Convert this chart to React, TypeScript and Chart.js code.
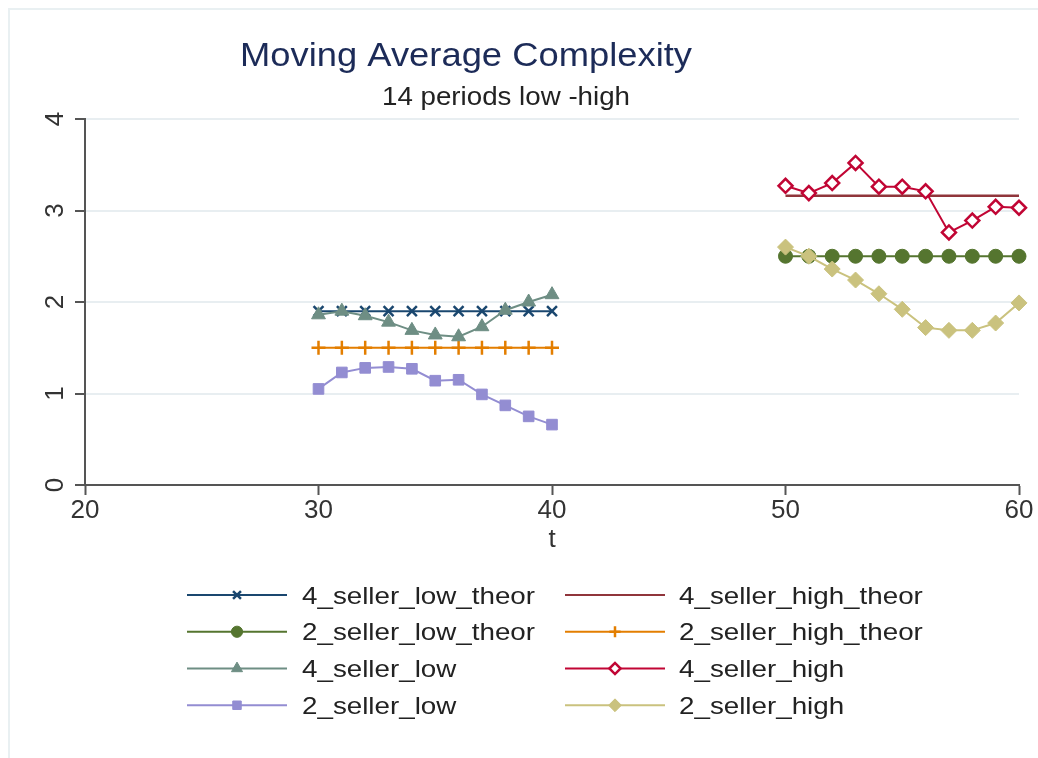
import React, { useEffect, useRef } from 'react';
import { Chart, registerables } from 'chart.js';

Chart.register(...registerables);

// ---------- data ----------
const periodsLow = [30, 31, 32, 33, 34, 35, 36, 37, 38, 39, 40];
const periodsHigh = [50, 51, 52, 53, 54, 55, 56, 57, 58, 59, 60];

const seller4LowTheor = [1.9, 1.9, 1.9, 1.9, 1.9, 1.9, 1.9, 1.9, 1.9, 1.9, 1.9];
const seller4HighTheor = [3.16, 3.16, 3.16, 3.16, 3.16, 3.16, 3.16, 3.16, 3.16, 3.16, 3.16];
const seller2LowTheor = [2.5, 2.5, 2.5, 2.5, 2.5, 2.5, 2.5, 2.5, 2.5, 2.5, 2.5];
const seller2HighTheor = [1.5, 1.5, 1.5, 1.5, 1.5, 1.5, 1.5, 1.5, 1.5, 1.5, 1.5];
const seller4Low = [1.86, 1.9, 1.85, 1.78, 1.69, 1.64, 1.62, 1.73, 1.91, 2.0, 2.08];
const seller4High = [3.27, 3.19, 3.3, 3.52, 3.26, 3.26, 3.21, 2.76, 2.89, 3.04, 3.03];
const seller2Low = [1.05, 1.23, 1.28, 1.29, 1.27, 1.14, 1.15, 0.99, 0.87, 0.75, 0.66];
const seller2High = [2.6, 2.5, 2.36, 2.24, 2.09, 1.92, 1.72, 1.69, 1.69, 1.77, 1.99];

const seriesNames = [
  '4_seller_low_theor',
  '4_seller_high_theor',
  '2_seller_low_theor',
  '2_seller_high_theor',
  '4_seller_low',
  '4_seller_high',
  '2_seller_low',
  '2_seller_high',
];

const xTickValues = [20, 30, 40, 50, 60];
const yTickValues = [0, 1, 2, 3, 4];
const titleText = 'Moving Average Complexity';
const subtitleText = '14 periods low -high';
const xAxisTitle = 't';

// ---------- styles ----------
const FONT = '"Liberation Sans", Arial, Helvetica, sans-serif';

type Style = {
  color: string;
  point: string | false;
  radius: number;
  fill: string;
  pw: number;
};

const styles: Style[] = [
  { color: '#1a476f', point: 'crossRot', radius: 7, fill: '#1a476f', pw: 2.5 },
  { color: '#90353b', point: false, radius: 0, fill: '#90353b', pw: 0 },
  { color: '#55752f', point: 'circle', radius: 7, fill: '#55752f', pw: 1 },
  { color: '#e37e00', point: 'cross', radius: 7, fill: '#e37e00', pw: 2.5 },
  { color: '#6e8e84', point: 'triangle', radius: 8, fill: '#6e8e84', pw: 1 },
  { color: '#c10534', point: 'rectRot', radius: 7, fill: '#ffffff', pw: 2.5 },
  { color: '#938dd2', point: 'rect', radius: 7.5, fill: '#938dd2', pw: 1 },
  { color: '#cac27e', point: 'rectRot', radius: 8, fill: '#cac27e', pw: 1 },
];

const seriesValues = [
  seller4LowTheor,
  seller4HighTheor,
  seller2LowTheor,
  seller2HighTheor,
  seller4Low,
  seller4High,
  seller2Low,
  seller2High,
];
const seriesX = [periodsLow, periodsHigh, periodsHigh, periodsLow, periodsLow, periodsHigh, periodsLow, periodsHigh];

function drawMarker(
  ctx: CanvasRenderingContext2D,
  style: string,
  x: number,
  y: number,
  r: number,
  fill: string,
  stroke: string,
  lw: number
) {
  ctx.save();
  ctx.beginPath();
  ctx.lineWidth = lw;
  ctx.strokeStyle = stroke;
  ctx.fillStyle = fill;
  const c45 = Math.SQRT1_2;
  switch (style) {
    case 'circle':
      ctx.arc(x, y, r, 0, Math.PI * 2);
      ctx.fill();
      if (lw) ctx.stroke();
      break;
    case 'triangle': {
      let a = 0;
      ctx.moveTo(x + Math.sin(a) * r, y - Math.cos(a) * r);
      a += (2 * Math.PI) / 3;
      ctx.lineTo(x + Math.sin(a) * r, y - Math.cos(a) * r);
      a += (2 * Math.PI) / 3;
      ctx.lineTo(x + Math.sin(a) * r, y - Math.cos(a) * r);
      ctx.closePath();
      ctx.fill();
      if (lw) ctx.stroke();
      break;
    }
    case 'rect': {
      const h = r * c45;
      ctx.rect(x - h, y - h, 2 * h, 2 * h);
      ctx.fill();
      if (lw) ctx.stroke();
      break;
    }
    case 'rectRot':
      ctx.moveTo(x - r, y);
      ctx.lineTo(x, y - r);
      ctx.lineTo(x + r, y);
      ctx.lineTo(x, y + r);
      ctx.closePath();
      ctx.fill();
      if (lw) ctx.stroke();
      break;
    case 'cross':
      ctx.moveTo(x, y - r);
      ctx.lineTo(x, y + r);
      ctx.moveTo(x - r, y);
      ctx.lineTo(x + r, y);
      ctx.stroke();
      break;
    case 'crossRot': {
      const d = r * c45;
      ctx.moveTo(x - d, y - d);
      ctx.lineTo(x + d, y + d);
      ctx.moveTo(x + d, y - d);
      ctx.lineTo(x - d, y + d);
      ctx.stroke();
      break;
    }
  }
  ctx.restore();
}

function fillStretched(
  ctx: CanvasRenderingContext2D,
  text: string,
  x: number,
  y: number,
  font: string,
  color: string,
  stretch: number
) {
  ctx.save();
  ctx.font = font;
  ctx.fillStyle = color;
  ctx.textAlign = 'left';
  ctx.textBaseline = 'alphabetic';
  ctx.translate(x, y);
  ctx.scale(stretch, 1);
  ctx.fillText(text, 0, 0);
  ctx.restore();
}

function widthStretch(ctx: CanvasRenderingContext2D, text: string, font: string, target: number) {
  ctx.save();
  ctx.font = font;
  const w = ctx.measureText(text).width;
  ctx.restore();
  return target / w;
}

const decorPlugin = {
  id: 'stataDecor',
  afterDraw(chart: any) {
    const ctx: CanvasRenderingContext2D = chart.ctx;
    const yScale = chart.scales.y;

    // Titles
    const tFont = `33px ${FONT}`;
    fillStretched(ctx, titleText, 240, 65.5, tFont, '#1c2b58', widthStretch(ctx, titleText, tFont, 452));
    const sFont = `25px ${FONT}`;
    fillStretched(ctx, subtitleText, 382, 105, sFont, '#222222', widthStretch(ctx, subtitleText, sFont, 248));

    // Rotated y tick labels
    ctx.save();
    ctx.font = `26px ${FONT}`;
    ctx.fillStyle = '#333333';
    ctx.textAlign = 'center';
    ctx.textBaseline = 'alphabetic';
    yTickValues.forEach((v) => {
      const py = yScale.getPixelForValue(v);
      ctx.save();
      ctx.translate(63, py);
      ctx.rotate(-Math.PI / 2);
      ctx.fillText(String(v), 0, 0);
      ctx.restore();
    });
    ctx.restore();

    // Legend (2 columns, row-major)
    const lFont = `24px ${FONT}`;
    const lStretch = widthStretch(ctx, '4_seller_low_theor', lFont, 233);
    const cols = [
      { x0: 187, x1: 287, text: 302 },
      { x0: 565, x1: 665, text: 679 },
    ];
    seriesNames.forEach((name, i) => {
      const col = cols[i % 2];
      const row = Math.floor(i / 2);
      const cy = 595 + row * 36.75;
      const st = styles[i];
      ctx.save();
      ctx.strokeStyle = st.color;
      ctx.lineWidth = 2;
      ctx.beginPath();
      ctx.moveTo(col.x0, cy);
      ctx.lineTo(col.x1, cy);
      ctx.stroke();
      ctx.restore();
      if (st.point) {
        drawMarker(ctx, st.point, (col.x0 + col.x1) / 2, cy, st.radius * 0.8, st.fill, st.color, st.pw);
      }
      fillStretched(ctx, name, col.text, cy + 8.5, lFont, '#222222', lStretch);
    });
  },
};

export default function App() {
  const canvasRef = useRef<HTMLCanvasElement | null>(null);

  useEffect(() => {
    const canvas = canvasRef.current;
    if (!canvas) return;
    const datasets = seriesNames.map((name, i) => {
      const st = styles[i];
      return {
        label: name,
        data: seriesX[i].map((x, k) => ({ x, y: seriesValues[i][k] })),
        borderColor: st.color,
        backgroundColor: st.color,
        borderWidth: i === 1 ? 2.5 : 2,
        tension: 0,
        fill: false,
        pointStyle: st.point || 'circle',
        pointRadius: st.point ? st.radius : 0,
        pointHoverRadius: st.point ? st.radius : 0,
        pointBackgroundColor: st.fill,
        pointBorderColor: st.color,
        pointBorderWidth: st.pw,
        clip: false as any,
        order: 8 - i,
      };
    });

    const chart = new Chart(canvas, {
      type: 'line',
      data: { datasets },
      plugins: [decorPlugin],
      options: {
        responsive: false,
        animation: false,
        devicePixelRatio: 1,
        layout: { padding: { left: 0, right: 19, top: 119, bottom: 203 } },
        plugins: {
          legend: { display: false },
          title: { display: false },
          tooltip: { enabled: false },
        },
        scales: {
          x: {
            type: 'linear',
            min: 20,
            max: 60,
            afterBuildTicks: (scale: any) => {
              scale.ticks = xTickValues.map((v) => ({ value: v }));
            },
            afterFit: (scale: any) => {
              scale.height = 70;
            },
            ticks: {
              font: { size: 26, family: FONT },
              color: '#333333',
              padding: 0,
              maxRotation: 0,
              autoSkip: false,
            },
            grid: {
              drawOnChartArea: false,
              drawTicks: true,
              tickLength: 10,
              tickColor: '#555555',
              tickWidth: 2,
            },
            border: { color: '#555555', width: 2 },
            title: {
              display: true,
              text: xAxisTitle,
              font: { size: 26, family: FONT },
              color: '#333333',
              padding: 0,
            },
          },
          y: {
            type: 'linear',
            min: 0,
            max: 4,
            afterBuildTicks: (scale: any) => {
              scale.ticks = yTickValues.map((v) => ({ value: v }));
            },
            afterFit: (scale: any) => {
              scale.width = 85;
            },
            ticks: { display: false },
            grid: {
              color: (c: any) => (c.tick && c.tick.value === 0 ? 'rgba(0,0,0,0)' : '#e8eef1'),
              lineWidth: 2,
              drawTicks: true,
              tickLength: 10,
              tickColor: '#555555',
              tickWidth: 2,
            },
            border: { color: '#555555', width: 2 },
          },
        },
      } as any,
    });

    return () => {
      chart.destroy();
    };
  }, []);

  return (
    <>
      <div
        style={{
          position: 'fixed',
          left: 8,
          top: 8,
          width: 1030,
          height: 750,
          borderTop: '2px solid #e9f0f2',
          borderLeft: '2px solid #e9f0f2',
          boxSizing: 'border-box',
        }}
      />
      <canvas
        ref={canvasRef}
        width={1038}
        height={758}
        style={{ position: 'fixed', left: 0, top: 0, width: 1038, height: 758 }}
      />
    </>
  );
}
